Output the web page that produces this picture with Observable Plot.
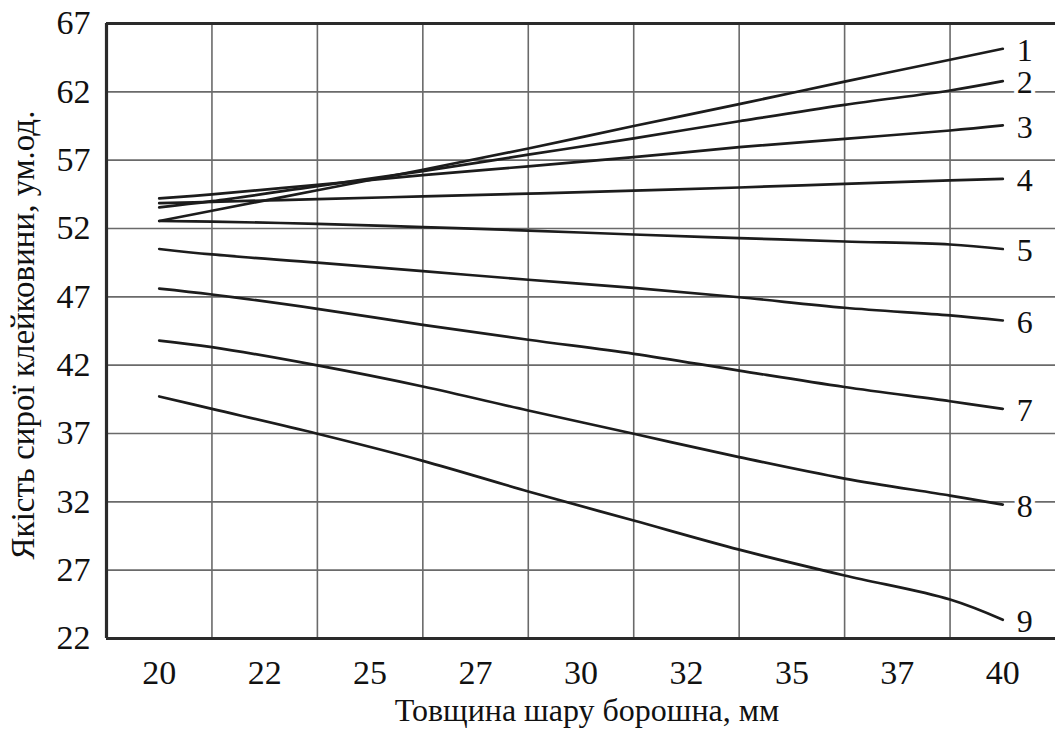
<!DOCTYPE html>
<html>
<head>
<meta charset="utf-8">
<script src="https://cdn.jsdelivr.net/npm/d3@7"></script>
<script src="https://cdn.jsdelivr.net/npm/@observablehq/plot@0.6"></script>
<style>
  html, body { margin: 0; padding: 0; background: #fff; }
  #chart { width: 1055px; height: 733px; }
  #chart svg, #chart svg text { font-family: "Liberation Serif", "Times New Roman", serif !important; }
</style>
</head>
<body>
<div id="chart"></div>
<script>
// Thickness of flour layer, mm (x positions at which the curves were read)
const thickness = [20, 21.25, 23.75, 26.25, 28.75, 31.25, 33.75, 36.25, 38.75, 40];

// Quality of raw gluten, conventional units — one array per curve
const curve1 = [52.55, 53.3, 54.8, 56.3, 57.85, 59.5, 61.1, 62.75, 64.35, 65.15];
const curve2 = [53.55, 54.0, 55.1, 56.2, 57.4, 58.6, 59.85, 61.05, 62.1, 62.78];
const curve3 = [54.2, 54.5, 55.2, 55.9, 56.55, 57.22, 57.95, 58.56, 59.17, 59.54];
const curve4 = [53.85, 53.95, 54.15, 54.35, 54.55, 54.77, 55.0, 55.27, 55.52, 55.63];
const curve5 = [52.55, 52.5, 52.34, 52.1, 51.85, 51.56, 51.3, 51.05, 50.83, 50.5];
const curve6 = [50.5, 50.1, 49.5, 48.88, 48.25, 47.66, 46.97, 46.2, 45.64, 45.27];
const curve7 = [47.6, 47.17, 46.12, 44.95, 43.86, 42.83, 41.6, 40.4, 39.36, 38.8];
const curve8 = [43.8, 43.32, 41.98, 40.44, 38.68, 36.98, 35.27, 33.7, 32.46, 31.8];
const curve9 = [39.71, 38.8, 36.98, 35.0, 32.76, 30.63, 28.5, 26.61, 24.85, 23.37];
const curveNames = ["1", "2", "3", "4", "5", "6", "7", "8", "9"];

// Axes
const xDomain = [18.75, 41.25];
const yDomain = [22, 67];
const xTickValues = [20, 22.5, 25, 27.5, 30, 32.5, 35, 37.5, 40];
const xTickLabels = ["20", "22", "25", "27", "30", "32", "35", "37", "40"];
const xGrid = [21.25, 23.75, 26.25, 28.75, 31.25, 33.75, 36.25, 38.75];
const yTicks = [22, 27, 32, 37, 42, 47, 52, 57, 62, 67];
const yGrid = [27, 32, 37, 42, 47, 52, 57, 62];
const xTitle = "Товщина шару борошна, мм";
const yTitle = "Якість сирої клейковини, ум.од.";

const FONT = "Liberation Serif, Times New Roman, serif";

const curves = [curve1, curve2, curve3, curve4, curve5, curve6, curve7, curve8, curve9];
const data = curves.flatMap((vals, i) =>
  vals.map((v, j) => ({x: thickness[j], y: v, series: curveNames[i]}))
);

const chart = Plot.plot({
  width: 1055,
  height: 733,
  marginLeft: 106,
  marginRight: 0,
  marginTop: 23,
  marginBottom: 95,
  style: {fontFamily: FONT, background: "#fff", color: "#111"},
  x: {domain: xDomain},
  y: {domain: yDomain},
  marks: [
    Plot.ruleX(xGrid, {stroke: "#6a6a6a", strokeWidth: 1.6}),
    Plot.ruleY(yGrid, {stroke: "#6a6a6a", strokeWidth: 1.6}),
    Plot.ruleX([xDomain[0]], {stroke: "#2a2a2a", strokeWidth: 3.2}),
    Plot.ruleY([yDomain[0], yDomain[1]], {stroke: "#2a2a2a", strokeWidth: 3}),
    Plot.axisX({
      ticks: xTickValues,
      tickFormat: (d) => xTickLabels[xTickValues.indexOf(d)],
      tickSize: 0,
      tickPadding: 21,
      fontSize: 34,
      fontFamily: FONT,
      label: null
    }),
    Plot.axisY({
      ticks: yTicks,
      tickSize: 0,
      tickPadding: 16,
      fontSize: 34,
      fontFamily: FONT,
      label: null
    }),
    Plot.line(data, {x: "x", y: "y", z: "series", stroke: "#1c1c1c", strokeWidth: 2.7, curve: "catmull-rom"}),
    Plot.text(data, Plot.selectLast({
      x: "x", y: "y", z: "series", text: "series",
      textAnchor: "start", dx: 14, dy: 2,
      fontSize: 32, fontFamily: FONT, fill: "#111", stroke: "#fff", strokeWidth: 8
    })),
    Plot.text([xTitle], {
      frameAnchor: "bottom", lineAnchor: "bottom", textAnchor: "middle", dy: 82, dx: 6,
      fontSize: 32, fontFamily: FONT, fill: "#111"
    }),
    Plot.text([yTitle], {
      frameAnchor: "left", rotate: -90, textAnchor: "middle", lineAnchor: "middle", dx: -83, dy: 4,
      fontSize: 33, fontFamily: FONT, fill: "#111"
    })
  ]
});

document.getElementById("chart").appendChild(chart);
</script>
</body>
</html>
